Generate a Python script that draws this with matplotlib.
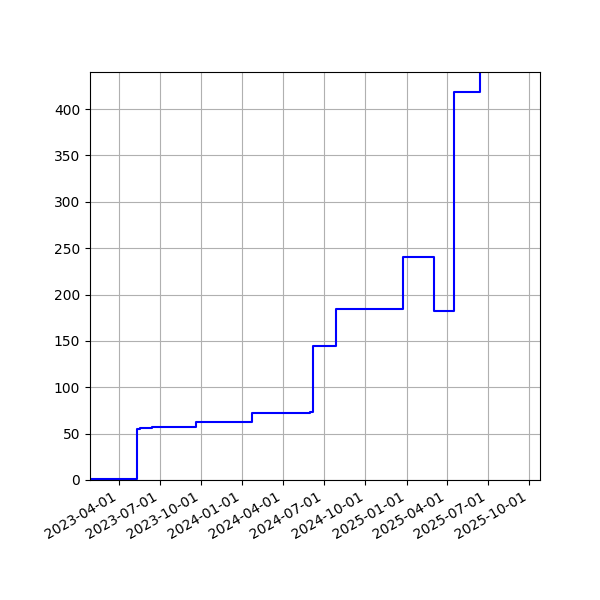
import numpy as np
import pandas as pd
import matplotlib
matplotlib.use("Agg")
import matplotlib.pyplot as plt
import matplotlib.dates as mdates

dates = pd.to_datetime([
    "2023-01-27", "2023-05-11", "2023-05-18", "2023-06-13", "2023-09-21",
    "2024-01-23", "2024-05-31", "2024-06-07", "2024-07-28", "2024-12-24",
    "2025-03-02", "2025-04-16", "2025-06-13", "2025-06-20",
])
values = [1, 55, 56, 57, 63, 72, 73, 145, 184, 241, 182, 418, 460, 470]

fig, ax = plt.subplots(figsize=(6, 6), dpi=100)
ax.step(dates, values, where="post", color="blue")
ax.set_xlim(pd.Timestamp("2023-01-27"), pd.Timestamp("2025-10-25"))
ax.set_ylim(0, 440)
ax.xaxis.set_major_locator(mdates.MonthLocator(bymonth=[1, 4, 7, 10]))
ax.xaxis.set_major_formatter(mdates.DateFormatter("%Y-%m-%d"))
ax.grid(True)
fig.autofmt_xdate()
plt.subplots_adjust(left=0.15, right=0.9, top=0.88, bottom=0.2)
plt.savefig("out.png")
